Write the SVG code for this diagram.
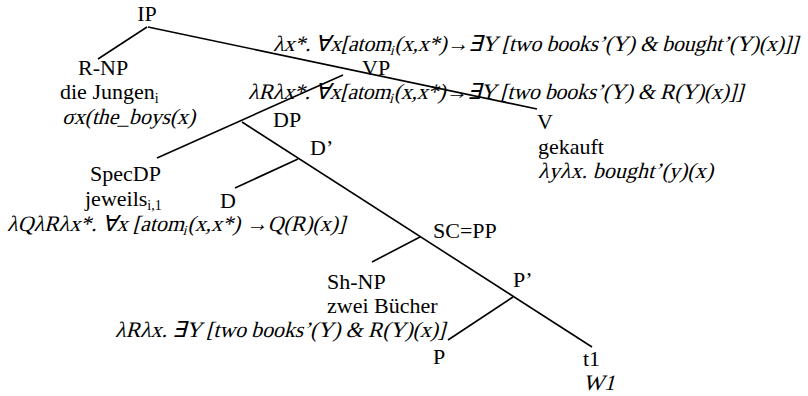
<svg xmlns="http://www.w3.org/2000/svg" width="808" height="396" viewBox="0 0 808 396">
<style>
text{font-family:"Liberation Serif","Times New Roman",serif;font-size:22px;fill:#000}
.sub{font-size:14px}
line{stroke:#000;stroke-width:1.6}
</style>
<rect width="808" height="396" fill="#fff"/>
<g id="connectors">
<line x1="147" y1="27" x2="98" y2="59"/>
<line x1="148" y1="27" x2="537" y2="109"/>
<line x1="343" y1="75" x2="157" y2="158"/>
<line x1="242" y1="122" x2="592" y2="347"/>
<line x1="298" y1="159" x2="235" y2="188"/>
<line x1="420" y1="237" x2="372" y2="262"/>
<line x1="513" y1="297" x2="448" y2="340"/>
</g>
<g id="IP"><text x="147" y="21" text-anchor="middle">IP</text>
<text transform="translate(273,51) skewX(-15)" x="0" y="0" textLength="525">λx*. ∀x[atom<tspan class="sub" dy="4">i</tspan><tspan dy="-4">(x,x*)→∃Y [two books’(Y) &amp; bought’(Y)(x)]]</tspan></text></g>
<g id="RNP"><text x="78" y="75">R-NP</text>
<text x="60" y="99">die Jungen<tspan class="sub" dy="4">i</tspan></text>
<text transform="translate(62,124) skewX(-15)" x="0" y="0" textLength="133">σx(the_boys(x)</text></g>
<g id="VP"><text x="362" y="75">VP</text>
<text transform="translate(248,99) skewX(-15)" x="0" y="0" textLength="495">λRλx*. ∀x[atom<tspan class="sub" dy="4">i</tspan><tspan dy="-4">(x,x*)→∃Y [two books’(Y) &amp; R(Y)(x)]]</tspan></text></g>
<g id="DP"><text x="273" y="127">DP</text></g>
<g id="V"><text x="537" y="129">V</text>
<text x="538" y="154">gekauft</text>
<text transform="translate(538,178) skewX(-15)" x="0" y="0" textLength="175">λyλx. bought’(y)(x)</text></g>
<g id="Dbar"><text x="310" y="155">D’</text></g>
<g id="SpecDP"><text x="90" y="181">SpecDP</text>
<text x="85" y="206">jeweils<tspan class="sub" dy="4">i,1</tspan></text>
<text transform="translate(7,231) skewX(-15)" x="0" y="0" textLength="338">λQλRλx*. ∀x [atom<tspan class="sub" dy="4">i</tspan><tspan dy="-4">(x,x*) →Q(R)(x)]</tspan></text></g>
<g id="D"><text x="220" y="208">D</text></g>
<g id="SCPP"><text x="433" y="238">SC=PP</text></g>
<g id="ShNP"><text x="327" y="289">Sh-NP</text>
<text x="327" y="313">zwei Bücher</text>
<text transform="translate(115,337) skewX(-15)" x="0" y="0" textLength="330">λRλx. ∃Y [two books’(Y) &amp; R(Y)(x)]</text></g>
<g id="Pbar"><text x="513" y="287">P’</text></g>
<g id="P"><text x="433" y="364">P</text></g>
<g id="t1"><text x="583" y="366">t1</text>
<text transform="translate(583,390) skewX(-15)" x="0" y="0">W1</text></g>
</svg>
